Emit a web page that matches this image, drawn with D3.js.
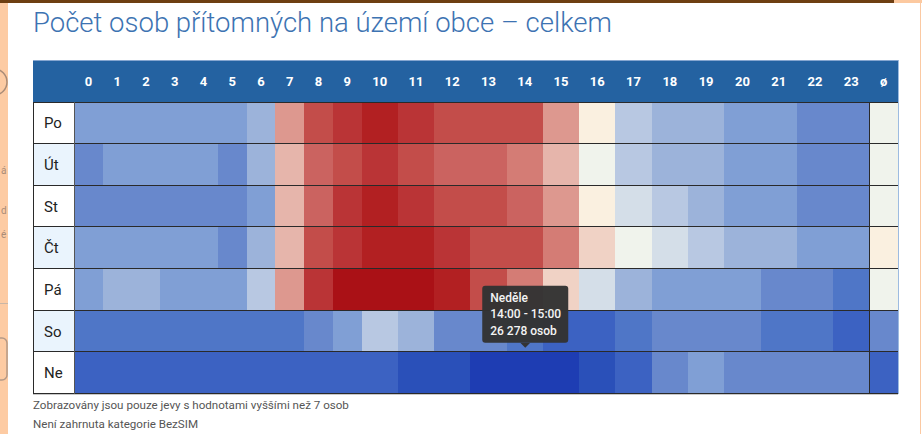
<!DOCTYPE html>
<html lang="cs">
<head>
<meta charset="utf-8">
<title>Počet osob přítomných na území obce</title>
<script src="https://cdnjs.cloudflare.com/ajax/libs/d3/7.8.5/d3.min.js"></script>
<style>
html,body {margin:0; padding:0; background:#fff; overflow:hidden;}
svg {display:block; font-family:Roboto, 'Noto Sans', sans-serif;}
</style>
</head>
<body>
<svg id="chart" width="922" height="434"></svg>
<script>
// data - pocty osob po hodinach (0-23) pro kazdy den, plus prumer (ø)
const dny = ['Po', 'Út', 'St', 'Čt', 'Pá', 'So', 'Ne']
const dnyCele = ['Pondělí', 'Úterý', 'Středa', 'Čtvrtek', 'Pátek', 'Sobota', 'Neděle']
const hodiny = ['0','1','2','3','4','5','6','7','8','9','10','11','12','13','14','15','16','17','18','19','20','21','22','23']
const sloupce = hodiny.concat(['ø'])

const osobyPo = [31420, 31180, 31050, 31010, 31090, 31560, 32710, 39350, 42480, 43620, 44310, 43870, 42950, 42760, 42540, 39410, 36220, 33480, 32650, 32140, 31720, 31230, 30810, 30460]
const osobyUt = [30870, 31090, 31020, 31000, 31040, 30950, 32480, 38610, 41720, 42380, 43150, 42260, 41840, 41530, 40720, 38460, 35380, 33210, 32560, 32080, 31640, 31190, 30720, 30380]
const osobySt = [30820, 30640, 30560, 30530, 30590, 30870, 31930, 38740, 41810, 43260, 44180, 43420, 42610, 42380, 41650, 39280, 36140, 34350, 33120, 32240, 31710, 31160, 30690, 30310]
const osobyCt = [31030, 31010, 31000, 31010, 31060, 30980, 32530, 38920, 42270, 43510, 44460, 44120, 43280, 42740, 42360, 40510, 37460, 35320, 34210, 33180, 32460, 32010, 31470, 31120]
const osobyPa = [31120, 32040, 32110, 31880, 31760, 31650, 33240, 39410, 43560, 45120, 45470, 45280, 44360, 42420, 40380, 37210, 34450, 32580, 31860, 31420, 31060, 30730, 30210, 29640]
const osobySo = [29380, 29210, 29150, 29110, 29140, 29260, 29480, 29870, 30560, 31430, 33150, 32410, 30780, 30320, 29610, 28940, 28720, 29160, 30170, 30480, 30240, 29830, 29260, 28640]
const osobyNe = [28510, 28440, 28390, 28370, 28380, 28450, 28560, 28690, 28820, 28710, 28340, 27650, 27120, 26540, 26278, 26490, 27310, 28160, 30110, 31070, 30680, 30430, 30210, 30020]
const prumer = [35410, 35120, 35650, 36240, 35280, 30060, 28720]

const radky = [osobyPo, osobyUt, osobySt, osobyCt, osobyPa, osobySo, osobyNe]

// barevna skala (modra -> bila -> cervena), 20 stupnu
const paleta = ['#1e3db3','#2a50b9','#3c62c2','#4f76c7','#6888cc','#809fd5','#9cb3da','#b8c8e2','#d4dee8','#f0f3ec',
                '#faf0e0','#f0d2c5','#e6b5ab','#dd988f','#d47c75','#cb6360','#c34d4a','#ba3436','#b22022','#aa1116']

const fmt = d3.formatLocale({decimal: ',', thousands: '\u00a0', grouping: [3], currency: ['', ' Kč']}).format(',d')

function main() {
  const svg = d3.select('#chart')

  // okoli stranky (pozadi za dialogem)
  svg.append('rect').attr('x', 0).attr('y', 0).attr('width', 922).attr('height', 434).attr('fill', '#fff')
  svg.append('rect').attr('x', 0).attr('y', 0).attr('width', 8).attr('height', 434).attr('fill', '#fdcba3')
  svg.append('rect').attr('x', 0).attr('y', 0).attr('width', 894).attr('height', 3).attr('fill', '#6e3f12')
  svg.append('rect').attr('x', 894).attr('y', 0).attr('width', 28).attr('height', 3).attr('fill', '#fcc9a0')
  svg.append('rect').attr('x', 920).attr('y', 0).attr('width', 1).attr('height', 434).attr('fill', '#fbc9a2')
  const bg = svg.append('g').attr('fill', '#a98c78').attr('font-size', 10)
  bg.append('text').attr('x', 1).attr('y', 174).text('á')
  bg.append('text').attr('x', 1).attr('y', 214).text('d')
  bg.append('text').attr('x', 1).attr('y', 238).text('é')
  svg.append('circle').attr('cx', -6).attr('cy', 82).attr('r', 13).attr('fill', 'none').attr('stroke', '#a98c78').attr('stroke-width', 1.5)
  svg.append('rect').attr('x', -8).attr('y', 338).attr('width', 15).attr('height', 42).attr('rx', 5).attr('fill', 'none').attr('stroke', '#b49a88').attr('stroke-width', 1.5)
  svg.append('rect').attr('x', 0).attr('y', 303).attr('width', 8).attr('height', 1).attr('fill', '#c9b6a6')

  // nadpis
  svg.append('text')
    .attr('x', 33).attr('y', 32)
    .attr('font-size', 27.5).attr('font-weight', 300).attr('fill', '#3d73b2')
    .text('Počet osob přítomných na území obce – celkem')

  const left = 33, labelRight = 74, right = 898
  const headTop = 60, top = 102, bottom = 393.5

  // hlavicka
  svg.append('rect').attr('x', left).attr('y', headTop).attr('width', right - left).attr('height', top - headTop).attr('fill', '#2462a1')
  svg.append('rect').attr('x', left).attr('y', headTop).attr('width', right - left).attr('height', 1).attr('fill', '#86a6d0')

  // sirky sloupcu podle sirky popisku (jako u html tabulky)
  const head = svg.append('g').attr('font-size', 13).attr('font-weight', 700).attr('fill', '#fff').attr('text-anchor', 'middle')
  const headTexts = head.selectAll('text').data(sloupce).join('text').text(d => d)
  const widths = []
  headTexts.each(function() { widths.push(this.getComputedTextLength() + 21) })
  const cum = [0]
  widths.forEach((w, i) => cum.push(cum[i] + w))
  const x = d3.scaleLinear().domain([0, cum[cum.length - 1]]).range([labelRight, right])
  headTexts.attr('x', (d, i) => (x(cum[i]) + x(cum[i + 1])) / 2).attr('y', 86)

  const y = d3.scaleBand().domain(dny).range([top, bottom])
  const color = d3.scaleQuantize().domain([26000, 46000]).range(paleta)

  // popisky dnu
  svg.append('g').selectAll('rect').data(dny).join('rect')
    .attr('x', left).attr('y', d => y(d)).attr('width', labelRight - left).attr('height', y.bandwidth())
    .attr('fill', (d, i) => i % 2 ? '#eaf4fd' : '#fff')
  svg.append('g').attr('font-size', 15).attr('fill', '#222')
    .selectAll('text').data(dny).join('text')
    .attr('x', 44).attr('y', d => y(d) + y.bandwidth() / 2 + 5.5)
    .text(d => d)

  // bunky
  const cells = []
  radky.forEach((row, i) => {
    row.forEach((v, j) => cells.push({den: i, sl: j, v: v}))
    cells.push({den: i, sl: 24, v: prumer[i]})
  })
  svg.append('g').attr('shape-rendering', 'crispEdges')
    .selectAll('rect').data(cells).join('rect')
    .attr('x', d => x(cum[d.sl]))
    .attr('width', d => x(cum[d.sl + 1]) - x(cum[d.sl]))
    .attr('y', d => y(dny[d.den]))
    .attr('height', y.bandwidth())
    .attr('fill', d => color(d.v))

  // mrizka
  const grid = svg.append('g').attr('shape-rendering', 'crispEdges')
  grid.selectAll('line.h').data(dny.concat(['_'])).join('line').attr('class', 'h')
    .attr('x1', left).attr('x2', right)
    .attr('y1', (d, i) => i < dny.length ? y(d) : bottom)
    .attr('y2', (d, i) => i < dny.length ? y(d) : bottom)
    .attr('stroke', '#2a2a2a')
  grid.append('line').attr('x1', left).attr('x2', right).attr('y1', bottom + 1).attr('y2', bottom + 1).attr('stroke', '#c8c8c8')
  grid.append('line').attr('x1', left + 0.5).attr('x2', left + 0.5).attr('y1', top).attr('y2', bottom).attr('stroke', '#2a2a2a')
  grid.append('line').attr('x1', labelRight).attr('x2', labelRight).attr('y1', top).attr('y2', bottom).attr('stroke', '#555')
  grid.append('line').attr('x1', x(cum[24])).attr('x2', x(cum[24])).attr('y1', top).attr('y2', bottom).attr('stroke', '#2a2a2a')
  grid.append('line').attr('x1', right).attr('x2', right).attr('y1', headTop).attr('y2', bottom).attr('stroke', '#9dbbe0')

  // poznamky
  const note = svg.append('g').attr('font-size', 11.6).attr('fill', '#555')
  note.append('text').attr('x', 33).attr('y', 409).text('Zobrazovány jsou pouze jevy s hodnotami vyššími než 7 osob')
  note.append('text').attr('x', 33).attr('y', 428).text('Není zahrnuta kategorie BezSIM')

  // tooltip - nedele 14:00
  const tDen = 6, tSl = 14
  const cx = (x(cum[tSl]) + x(cum[tSl + 1])) / 2
  const ty = y(dny[tDen]) - 3
  const tw = 86, th = 57
  const tip = svg.append('g').attr('transform', `translate(${cx - tw / 2 + 0.5},${ty - th - 6})`)
  tip.append('rect').attr('width', tw).attr('height', th).attr('rx', 3).attr('fill', '#333').attr('fill-opacity', 0.97)
  tip.append('path').attr('d', `M${tw / 2 - 5},${th} L${tw / 2},${th + 5} L${tw / 2 + 5},${th} Z`).attr('fill', '#333')
  const tt = tip.append('g').attr('font-size', 12).attr('font-weight', 500).attr('fill', '#f4f4f4')
  const lines = [dnyCele[tDen], hodiny[tSl] + ':00 - ' + hodiny[tSl + 1] + ':00', fmt(radky[tDen][tSl]) + ' osob']
  tt.selectAll('text').data(lines).join('text')
    .attr('x', 8).attr('y', (d, i) => 16 + i * 16.5)
    .text(d => d)
}

main()
</script>
</body>
</html>
